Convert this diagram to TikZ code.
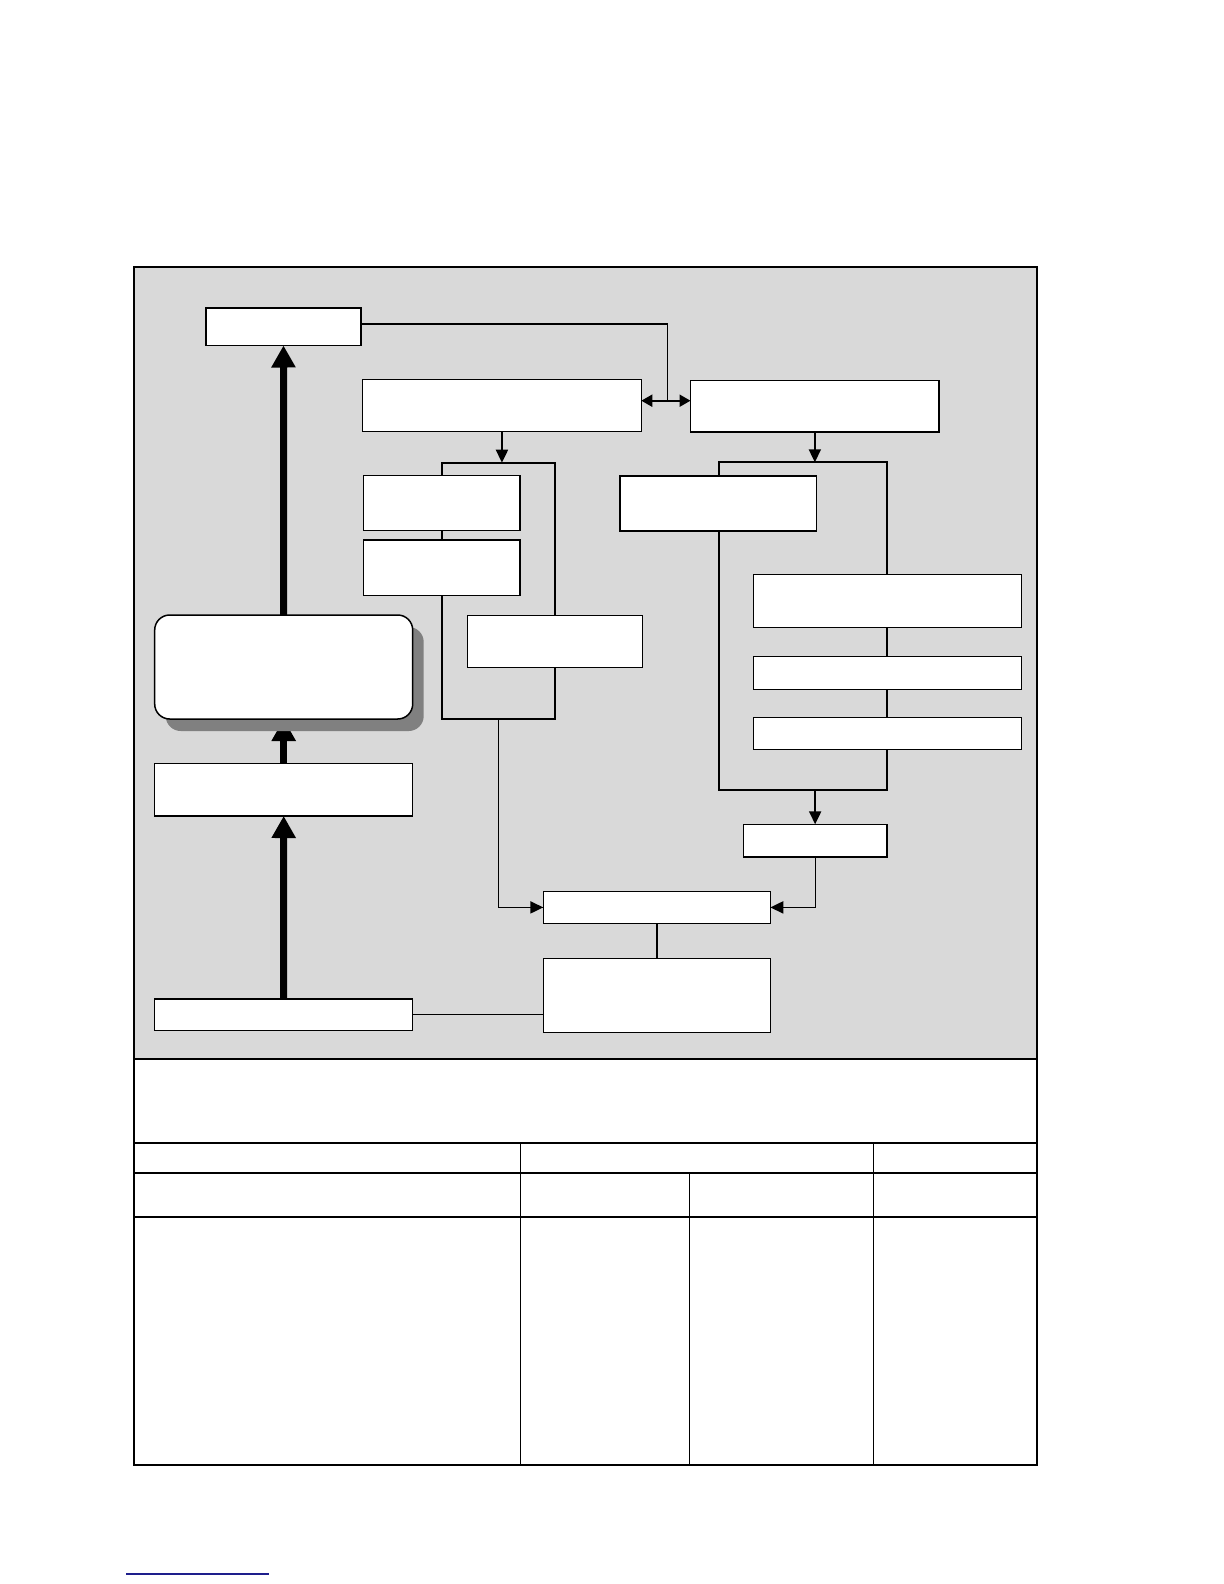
\documentclass[tikz,border=0pt]{standalone}
\usetikzlibrary{arrows.meta,fit,shadows}
\pgfdeclarelayer{bg}
\pgfdeclarelayer{lines}
\pgfsetlayers{bg,lines,main}
\definecolor{panel}{RGB}{217,217,217}
\definecolor{shade}{RGB}{128,128,128}
\definecolor{linkblue}{RGB}{30,30,140}
\begin{document}
\begin{tikzpicture}[x=0.5pt,y=-0.5pt,
  box/.style={draw, fill=white, line width=0.75pt, inner sep=0pt, outer sep=0pt},
  conn/.style={line width=0.55pt},
  brk/.style={line width=0.85pt},
  arr/.style={line width=1pt, -{Triangle[length=6.5pt,width=6pt]}},
  dblarr/.style={line width=1pt, {Triangle[length=5.5pt,width=6pt]}-{Triangle[length=5.5pt,width=6pt]}},
  bigarr/.style={line width=3.5pt, -{Triangle[length=11pt,width=11.5pt]}},
  tline/.style={line width=1pt},
  vline/.style={line width=0.5pt}]
\useasboundingbox (0,0) rectangle (1224,1584);
\begin{pgfonlayer}{bg}
  \fill[white] (0,0) rectangle (1224,1584);
  \fill[panel] (134,267) rectangle (1037,1059);
  \draw[tline] (134,1059) -- (1037,1059);
  \draw[tline] (134,1143) -- (1037,1143);
  \draw[tline] (134,1172.5) -- (1037,1172.5);
  \draw[tline] (134,1217) -- (1037,1217);
  \draw[vline] (520,1143) -- (520,1465);
  \draw[vline] (873,1143) -- (873,1465);
  \draw[vline] (689.8,1172.5) -- (689.8,1465);
  \draw[tline] (134,267) rectangle (1037,1465);
  \draw[linkblue, line width=0.75pt] (126,1574) -- (269,1574);
\end{pgfonlayer}

% boxes
\node[box, fit={(206,308) (361,345.5)}] (A) {};
\node[box, fit={(362.6,379.7) (641.3,431.5)}] (B) {};
\node[box, fit={(690.5,380.5) (939.2,432.2)}] (C) {};
\node[box, fit={(363.6,475.5) (520.2,530.6)}] (D) {};
\node[box, fit={(363.6,540.2) (520.2,595.4)}] (E) {};
\node[box, fit={(467.3,615.3) (642.3,667.3)}] (F) {};
\node[box, fit={(620,476) (816.3,531)}] (J) {};
\node[box, fit={(753.3,574.3) (1021.7,627.3)}] (K) {};
\node[box, fit={(753.3,656.3) (1021.7,689.3)}] (L) {};
\node[box, fit={(753.3,717.3) (1021.7,749.3)}] (M) {};
\node[box, fit={(743.3,824.3) (887,857)}] (N) {};
\node[box, fit={(543.3,891.5) (770.3,923.3)}] (G) {};
\node[box, fit={(543.3,958.3) (770.3,1032.3)}] (H) {};
\node[box, fit={(154.5,998.8) (412.5,1030.5)}] (I) {};
\node[box, fit={(154.7,763.3) (412.7,816)}] (S) {};
\node[box, rounded corners=7.5pt,
      drop shadow={shadow xshift=5.5pt, shadow yshift=-6pt, fill=shade, opacity=1},
      fit={(154.7,615) (412.7,719)}] (R) {};

% named bend points
\coordinate (dbl) at (667.7,400.7);
\coordinate (lbt) at (502,462.7);
\coordinate (lbtl) at (441.7,462.7);
\coordinate (lbbr) at (554.7,718.7);
\coordinate (lbb) at (498.3,718.7);
\coordinate (rbt) at (814.8,462.3);
\coordinate (rbtl) at (719,462.3);
\coordinate (rbbr) at (887.3,789.7);
\coordinate (rbb) at (815.2,789.7);

\begin{pgfonlayer}{lines}
  \draw[conn] ([yshift=1.4pt]A.east) -| (dbl);
  \draw[dblarr] (B.east |- dbl) -- (C.west |- dbl);
  % left group
  \draw[arr] (B.south) -- (B.south |- lbt);
  \draw[brk] (lbtl) rectangle (lbbr);
  \draw[conn] (lbb) |- (G.west);
  \draw[arr] ([xshift=-6pt]G.west) -- (G.west);
  % right group
  \draw[arr] (C.south) -- (C.south |- rbt);
  \draw[brk] (rbtl) rectangle (rbbr);
  \draw[line width=1.1pt] (rbtl) |- (rbbr);
  \draw[arr] (N.north |- rbb) -- (N.north);
  \draw[conn] (N.south) |- (G.east);
  \draw[arr] ([xshift=6pt]G.east) -- (G.east);
  % bottom
  \draw[line width=1pt] (G.south) -- (H.north);
  \draw[conn] (I.east) -- (I.east -| H.west);
  % thick arrows
  \draw[bigarr] (I.north) -- (S.south);
  \draw[bigarr] (S.north) -- (R.south);
  \draw[bigarr] (R.north) -- (A.south);
\end{pgfonlayer}
\end{tikzpicture}
\end{document}
